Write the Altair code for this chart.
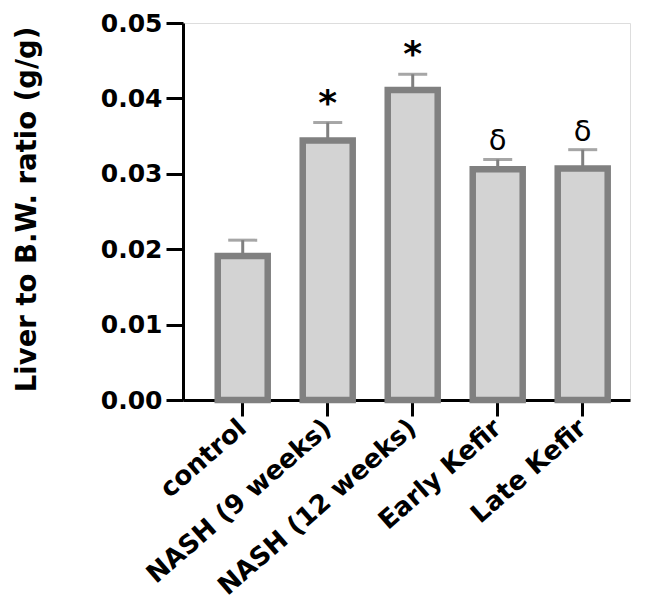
import altair as alt
import pandas as pd

categories = ["control", "NASH (9 weeks)", "NASH (12 weeks)", "Early Kefir", "Late Kefir"]
means = [0.0191, 0.0344, 0.0411, 0.0306, 0.0307]
upper = [0.0212, 0.0368, 0.0432, 0.0319, 0.0332]
stars = ["", "*", "*", "", ""]
deltas = ["", "", "", "δ", "δ"]
y_ticks = [0.0, 0.01, 0.02, 0.03, 0.04, 0.05]

df = pd.DataFrame({"group": categories, "mean": means, "upper": upper,
                   "star": stars, "delta": deltas})

FONT = "DejaVu Sans"
GRAY = "#808080"

x_enc = alt.X("group:N", sort=categories, title=None,
              scale=alt.Scale(paddingInner=0.412, paddingOuter=0.3355, align=0.609),
              axis=alt.Axis(labelAngle=-41, labelFont=FONT, labelFontWeight="bold",
                            labelFontSize=26, labelColor="black", labelPadding=8,
                            labelLimit=0,
                            domainColor="black", domainWidth=3, tickColor="black",
                            tickWidth=3, tickSize=16, labelAlign="right",
                            labelBaseline="middle"))
y_scale = alt.Scale(domain=[0, 0.05], nice=False)

base = alt.Chart(df)

bars = base.mark_bar(fill="#d3d3d3", stroke=GRAY, strokeWidth=6.5).encode(
    x=x_enc,
    y=alt.Y("mean:Q", scale=y_scale, title="Liver to B.W. ratio (g/g)",
            axis=alt.Axis(values=y_ticks, format=".2f", grid=False,
                          labelFont=FONT, labelFontWeight="bold", labelFontSize=25,
                          labelColor="black", labelPadding=4,
                          domainColor="black", domainWidth=3, tickColor="black",
                          tickWidth=3, tickSize=17,
                          titleFont=FONT, titleFontWeight="bold", titleFontSize=27.5,
                          titleColor="black", titleX=-142, titleY=186,
                          titleBaseline="bottom")),
)

err = base.mark_rule(color=GRAY, strokeWidth=3).encode(
    x=alt.X("group:N", sort=categories),
    y=alt.Y("mean:Q", scale=y_scale),
    y2="upper:Q",
)

caps = base.mark_tick(color=GRAY, thickness=3, size=29).encode(
    x=alt.X("group:N", sort=categories),
    y=alt.Y("upper:Q", scale=y_scale),
)

star_txt = base.mark_text(font=FONT, fontWeight="bold", fontSize=36, color="black",
                          baseline="alphabetic", dy=-8).encode(
    x=alt.X("group:N", sort=categories),
    y=alt.Y("upper:Q", scale=y_scale),
    text="star:N",
)

delta_txt = base.mark_text(font=FONT, fontSize=29, color="black",
                           baseline="alphabetic", dy=-9).encode(
    x=alt.X("group:N", sort=categories),
    y=alt.Y("upper:Q", scale=y_scale),
    text="delta:N",
)

chart = alt.layer(bars, err, caps, star_txt, delta_txt).properties(
    width=447, height=377,
    autosize=alt.AutoSizeParams(type="none"),
    padding={"left": 175, "top": 15, "right": 7, "bottom": 205},
).configure_view(stroke=None).configure(background="white")

chart.save("out.html", embed_options={"renderer": "svg", "actions": False})
